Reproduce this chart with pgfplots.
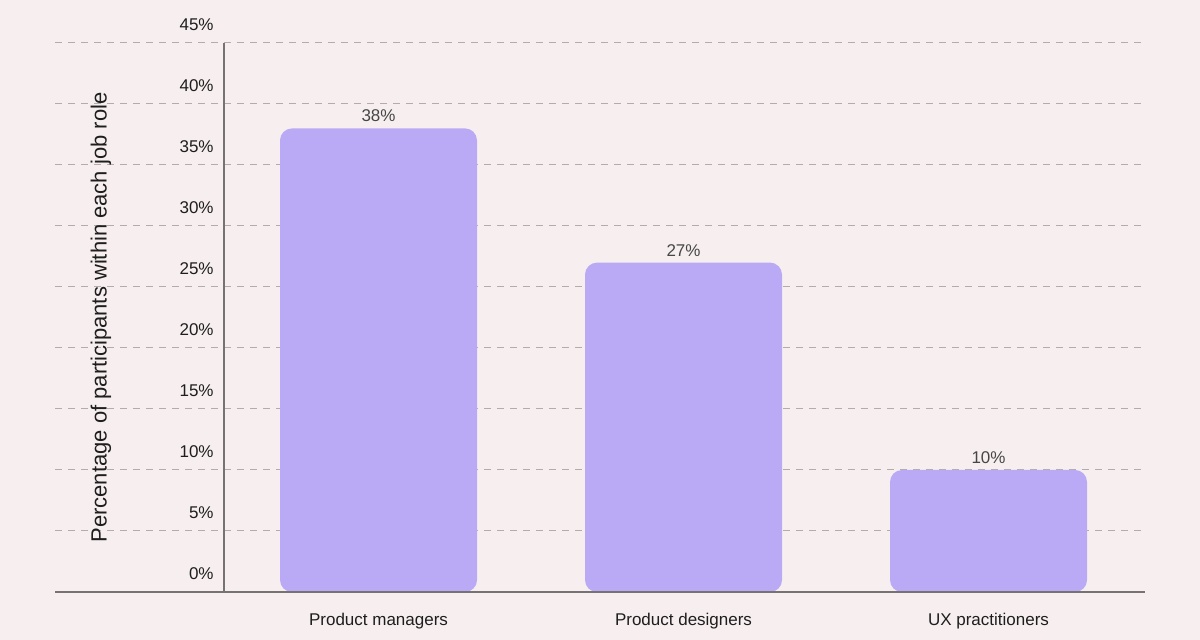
\documentclass[border=0pt]{standalone}
\usepackage{pgfplots}
\pgfplotsset{compat=1.18}
\usepackage{fontspec}
\setmainfont{Liberation Sans}
\definecolor{bg}{RGB}{247,239,239}
\definecolor{barc}{RGB}{186,170,246}
\definecolor{gridc}{RGB}{180,172,172}
\definecolor{axc}{RGB}{120,115,115}
\definecolor{txt}{RGB}{30,30,30}
\definecolor{vtxt}{RGB}{70,70,70}
\begin{document}
\begin{tikzpicture}
\fill[bg] (0,0) rectangle (600pt,320pt);
\begin{axis}[
  at={(27.5pt,24pt)}, anchor=south west,
  scale only axis, width=545pt, height=274.5pt,
  xmin=-1.0607, xmax=2.5131, ymin=0, ymax=45,
  axis line style={draw=none},
  major tick length=0pt,
  /pgf/number format/assume math mode=true,
  ytick={0,5,...,45},
  yticklabels={0\%,5\%,10\%,15\%,20\%,25\%,30\%,35\%,40\%,45\%},
  yticklabel style={anchor=base east, inner sep=0pt, xshift=79.5pt, yshift=6pt, font=\fontsize{8.5}{10}\selectfont, text=txt},
  xtick={0,1,2},
  xticklabels={Product managers,Product designers,UX practitioners},
  xticklabel style={anchor=north, inner sep=0pt, yshift=-10.5pt, font=\fontsize{8.5}{10}\selectfont, text=txt},
  ymajorgrids,
  major grid style={gridc, line width=0.5pt, dash pattern=on 3.5pt off 3pt},
  ylabel={Percentage of participants within each job role},
  ylabel style={at={(rel axis cs:0.0422,0.5)}, anchor=center, rotate=0, font=\fontsize{11}{13}\selectfont, text=txt},
  ybar, bar width=98.5pt,
  nodes near coords={\pgfmathprintnumber[assume math mode=true]{\pgfplotspointmeta}\%},
  nodes near coords style={font=\fontsize{8.5}{10}\selectfont, text=vtxt, anchor=south, inner sep=0pt, yshift=3pt},
  clip=false,
]
\addplot[fill=barc, draw=none, rounded corners=6pt] coordinates {(0,38) (1,27) (2,10)};
\draw[axc, line width=0.6pt] (axis cs:-1.0607,0) -- (axis cs:2.5131,0);
\draw[axc, line width=0.6pt] (axis cs:-0.5066,0) -- (axis cs:-0.5066,45);
\end{axis}
\pgfresetboundingbox
\useasboundingbox (0,0) rectangle (600pt,320pt);
\end{tikzpicture}
\end{document}
